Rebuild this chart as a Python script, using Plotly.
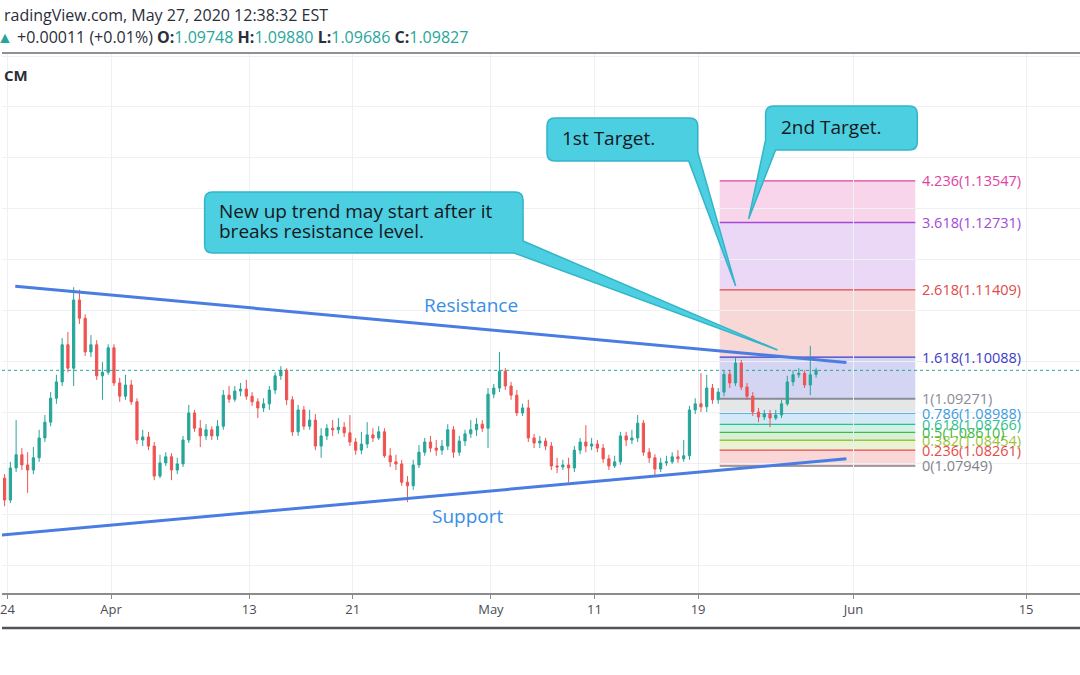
import pandas as pd
import plotly.graph_objects as go

# ---------------- data ----------------
session_days = [d.strftime("%Y-%m-%d") for d in pd.bdate_range("2020-03-23", "2020-06-30")]
candles_per_day = 3  # 8-hour candles, first session 2020-03-23

open_ = [1.0803, 1.0791, 1.0771, 1.0728, 1.0791, 1.0817, 1.0797, 1.0787, 1.0811, 1.0850, 1.0881, 1.0928,
         1.0960, 1.1033, 1.0987, 1.1121, 1.1085, 1.1019, 1.1033, 1.0972, 1.0979, 1.1027, 1.0958, 1.0932,
         1.0954, 1.0921, 1.0846, 1.0852, 1.0834, 1.0775, 1.0801, 1.0813, 1.0787, 1.0799, 1.0846, 1.0899,
         1.0869, 1.0854, 1.0866, 1.0854, 1.0873, 1.0934, 1.0926, 1.0942, 1.0946, 1.0932, 1.0921, 1.0909,
         1.0917, 1.0944, 1.0972, 1.0983, 1.0925, 1.0862, 1.0905, 1.0873, 1.0885, 1.0834, 1.0854, 1.0869,
         1.0866, 1.0871, 1.0860, 1.0842, 1.0826, 1.0838, 1.0856, 1.0850, 1.0862, 1.0815, 1.0803, 1.0799,
         1.0763, 1.0756, 1.0797, 1.0822, 1.0842, 1.0830, 1.0826, 1.0834, 1.0866, 1.0822, 1.0844, 1.0858,
         1.0866, 1.0877, 1.0869, 1.0936, 1.0948, 1.0981, 1.0952, 1.0934, 1.0899, 1.0909, 1.0850, 1.0840,
         1.0844, 1.0834, 1.0795, 1.0793, 1.0797, 1.0791, 1.0826, 1.0842, 1.0834, 1.0838, 1.0830, 1.0809,
         1.0795, 1.0803, 1.0854, 1.0846, 1.0850, 1.0879, 1.0822, 1.0811, 1.0789, 1.0801, 1.0803, 1.0813,
         1.0809, 1.0815, 1.0905, 1.0917, 1.0911, 1.0948, 1.0925, 1.0940, 1.0975, 1.0958, 1.0997, 1.0950,
         1.0932, 1.0901, 1.0891, 1.0897, 1.0889, 1.0895, 1.0917, 1.0960, 1.0974, 1.0977, 1.0954, 1.09748]
high_ = [1.0811, 1.0799, 1.0779, 1.0803, 1.0885, 1.0830, 1.0822, 1.0832, 1.0866, 1.0895, 1.0940, 1.0974,
         1.1046, 1.1058, 1.1146, 1.1141, 1.1093, 1.1052, 1.1042, 1.0999, 1.1034, 1.1034, 1.0968, 1.0974,
         1.0964, 1.0928, 1.0866, 1.0862, 1.0842, 1.0817, 1.0822, 1.0820, 1.0811, 1.0854, 1.0915, 1.0905,
         1.0885, 1.0877, 1.0873, 1.0885, 1.0944, 1.0952, 1.0952, 1.0958, 1.0964, 1.0940, 1.0928, 1.0928,
         1.0952, 1.0979, 1.0991, 1.0987, 1.0932, 1.0915, 1.0913, 1.0905, 1.0897, 1.0869, 1.0877, 1.0885,
         1.0889, 1.0881, 1.0895, 1.0850, 1.0862, 1.0881, 1.0869, 1.0873, 1.0869, 1.0830, 1.0817, 1.0807,
         1.0775, 1.0807, 1.0836, 1.0850, 1.0854, 1.0846, 1.0846, 1.0877, 1.0873, 1.0854, 1.0866, 1.0885,
         1.0889, 1.0885, 1.0948, 1.0956, 1.1019, 1.0987, 1.0960, 1.0944, 1.0917, 1.0925, 1.0858, 1.0854,
         1.0850, 1.0842, 1.0811, 1.0807, 1.0811, 1.0834, 1.0850, 1.0875, 1.0850, 1.0846, 1.0838, 1.0817,
         1.0815, 1.0862, 1.0862, 1.0866, 1.0895, 1.0885, 1.0830, 1.0818, 1.0811, 1.0815, 1.0822, 1.0826,
         1.0846, 1.0913, 1.0928, 1.0977, 1.0974, 1.0956, 1.0948, 1.0983, 1.0983, 1.1007, 1.1003, 1.0958,
         1.0940, 1.0909, 1.0905, 1.0905, 1.0905, 1.0925, 1.0972, 1.0983, 1.0987, 1.0983, 1.1031, 1.09880]
low_ = [1.0779, 1.0760, 1.0716, 1.0722, 1.0783, 1.0787, 1.0742, 1.0779, 1.0803, 1.0842, 1.0873, 1.0917,
        1.0952, 1.0979, 1.0952, 1.1074, 1.1011, 1.1009, 1.0964, 1.0925, 1.0974, 1.0952, 1.0921, 1.0925,
        1.0915, 1.0838, 1.0834, 1.0826, 1.0767, 1.0771, 1.0795, 1.0767, 1.0779, 1.0793, 1.0840, 1.0862,
        1.0832, 1.0846, 1.0846, 1.0846, 1.0866, 1.0919, 1.0921, 1.0932, 1.0925, 1.0913, 1.0889, 1.0901,
        1.0905, 1.0936, 1.0964, 1.0915, 1.0854, 1.0854, 1.0866, 1.0866, 1.0826, 1.0811, 1.0846, 1.0854,
        1.0858, 1.0852, 1.0834, 1.0817, 1.0818, 1.0830, 1.0842, 1.0846, 1.0811, 1.0793, 1.0787, 1.0756,
        1.0724, 1.0748, 1.0791, 1.0815, 1.0822, 1.0815, 1.0817, 1.0826, 1.0811, 1.0815, 1.0834, 1.0850,
        1.0854, 1.0862, 1.0830, 1.0928, 1.0940, 1.0944, 1.0925, 1.0893, 1.0893, 1.0842, 1.0830, 1.0830,
        1.0826, 1.0787, 1.0781, 1.0787, 1.0763, 1.0783, 1.0818, 1.0822, 1.0826, 1.0822, 1.0801, 1.0787,
        1.0791, 1.0797, 1.0834, 1.0838, 1.0842, 1.0815, 1.0801, 1.0773, 1.0783, 1.0795, 1.0799, 1.0801,
        1.0803, 1.0807, 1.0897, 1.0901, 1.0901, 1.0917, 1.0917, 1.0932, 1.0948, 1.0952, 1.0944, 1.0925,
        1.0893, 1.0881, 1.0885, 1.0871, 1.0885, 1.0889, 1.0913, 1.0952, 1.0968, 1.0948, 1.0934, 1.09686]
close_ = [1.0791, 1.0771, 1.0728, 1.0791, 1.0817, 1.0797, 1.0787, 1.0811, 1.0850, 1.0881, 1.0928, 1.0960,
          1.1033, 1.0987, 1.1121, 1.1085, 1.1019, 1.1033, 1.0972, 1.0979, 1.1027, 1.0958, 1.0932, 1.0954,
          1.0921, 1.0846, 1.0852, 1.0834, 1.0775, 1.0801, 1.0813, 1.0787, 1.0799, 1.0846, 1.0899, 1.0869,
          1.0854, 1.0866, 1.0854, 1.0873, 1.0934, 1.0926, 1.0942, 1.0946, 1.0932, 1.0921, 1.0909, 1.0917,
          1.0944, 1.0972, 1.0983, 1.0925, 1.0862, 1.0905, 1.0873, 1.0885, 1.0834, 1.0854, 1.0869, 1.0866,
          1.0871, 1.0860, 1.0842, 1.0826, 1.0838, 1.0856, 1.0850, 1.0862, 1.0815, 1.0803, 1.0799, 1.0763,
          1.0756, 1.0797, 1.0822, 1.0842, 1.0830, 1.0826, 1.0834, 1.0866, 1.0822, 1.0844, 1.0858, 1.0866,
          1.0877, 1.0869, 1.0936, 1.0948, 1.0981, 1.0952, 1.0934, 1.0899, 1.0909, 1.0850, 1.0840, 1.0844,
          1.0834, 1.0795, 1.0793, 1.0797, 1.0791, 1.0826, 1.0842, 1.0834, 1.0838, 1.0830, 1.0809, 1.0795,
          1.0803, 1.0854, 1.0846, 1.0850, 1.0879, 1.0822, 1.0811, 1.0789, 1.0801, 1.0803, 1.0813, 1.0809,
          1.0815, 1.0905, 1.0917, 1.0911, 1.0948, 1.0925, 1.0940, 1.0975, 1.0958, 1.0997, 1.0950, 1.0932,
          1.0901, 1.0891, 1.0897, 1.0889, 1.0895, 1.0917, 1.0960, 1.0974, 1.0977, 1.0954, 1.0974, 1.09827]

tick_dates = ["2020-03-24", "2020-04-01", "2020-04-13", "2020-04-21", "2020-05-01",
              "2020-05-11", "2020-05-19", "2020-06-01", "2020-06-15"]
tick_labels = ["24", "Apr", "13", "21", "May", "11", "19", "Jun", "15"]

fib_ratios = ["0", "0.236", "0.382", "0.5", "0.618", "0.786", "1", "1.618", "2.618", "3.618", "4.236"]
fib_prices = [1.07949, 1.08261, 1.08454, 1.08610, 1.08766, 1.08988, 1.09271, 1.10088, 1.11409, 1.12731, 1.13547]
fib_colors = ["#808389", "#e84a4a", "#9cc43a", "#43b843", "#2fbf8f", "#3d9be0",
              "#8a8d96", "#3c3cc8", "#e04a4a", "#a24ad8", "#e040a0"]
fib_span = [42.25, 53.58]          # session-index range covered by the fib drawing

resistance_x = [1.45, 49.59]
resistance_p = [1.1148, 1.0998]
support_x = [0.60, 49.59]
support_p = [1.0659, 1.0809]
last_price = 1.09827

# ---------------- figure ----------------
W, H = 1080, 675
PT, PB = 54, 593                  # plot area top / bottom in pixels
PH = PB - PT

xs = [i // candles_per_day + (i % candles_per_day + 0.5) / candles_per_day for i in range(len(close_))]
tickvals = [session_days.index(d) for d in tick_dates]


def rgba(h, a):
    h = h.lstrip("#")
    return f"rgba({int(h[0:2], 16)},{int(h[2:4], 16)},{int(h[4:6], 16)},{a})"


def P(x, y):
    return f"{x / W:.5f},{(PB - y) / PH:.5f}"


def px_y(y):
    return (PB - y) / PH


fig = go.Figure()
fig.add_trace(go.Candlestick(
    x=xs, open=open_, high=high_, low=low_, close=close_,
    increasing=dict(line=dict(color="#26a69a", width=1), fillcolor="#26a69a"),
    decreasing=dict(line=dict(color="#ef5350", width=1), fillcolor="#ef5350"),
    whiskerwidth=0, showlegend=False, hoverinfo="skip"))

shapes = []
# fib regions and lines
for i in range(1, len(fib_prices)):
    shapes.append(dict(type="rect", xref="x", yref="y", x0=fib_span[0], x1=fib_span[1],
                       y0=fib_prices[i - 1], y1=fib_prices[i], fillcolor=rgba(fib_colors[i], 0.22),
                       line=dict(width=0), layer="below"))
for p, c, r in zip(fib_prices, fib_colors, fib_ratios):
    shapes.append(dict(type="line", xref="x", yref="y", x0=fib_span[0], x1=fib_span[1], y0=p, y1=p,
                       line=dict(color=c, width=2 if r == "1" else 1.3), layer="below"))

# current price dotted line
shapes.append(dict(type="line", xref="paper", yref="y", x0=0, x1=1, y0=last_price, y1=last_price,
                   line=dict(color="#26a69a", width=1, dash="dot")))
# trend lines
shapes.append(dict(type="line", xref="x", yref="y", x0=resistance_x[0], x1=resistance_x[1],
                   y0=resistance_p[0], y1=resistance_p[1], line=dict(color="#4a7de2", width=3)))
shapes.append(dict(type="line", xref="x", yref="y", x0=support_x[0], x1=support_x[1],
                   y0=support_p[0], y1=support_p[1], line=dict(color="#4a7de2", width=3)))

# callouts (screen-anchored)
CFILL, CLINE = "#4ccfe0", "#33b4c8"
r = 8
L, R, T, B = 203, 522, 192, 253
path1 = (f"M {P(L + r, T)} L {P(R - r, T)} Q {P(R, T)} {P(R, T + r)} L {P(R, 241)} L {P(777, 350)} "
         f"L {P(513, B)} L {P(L + r, B)} Q {P(L, B)} {P(L, B - r)} L {P(L, T + r)} Q {P(L, T)} {P(L + r, T)} Z")
L, R, T, B = 546, 697, 118, 161
path2 = (f"M {P(L + r, T)} L {P(R - r, T)} Q {P(R, T)} {P(R, T + r)} L {P(R, 152)} L {P(735, 286)} "
         f"L {P(688, B)} L {P(L + r, B)} Q {P(L, B)} {P(L, B - r)} L {P(L, T + r)} Q {P(L, T)} {P(L + r, T)} Z")
L, R, T, B = 765, 917, 106, 150
path3 = (f"M {P(L + r, T)} L {P(R - r, T)} Q {P(R, T)} {P(R, T + r)} L {P(R, B - r)} Q {P(R, B)} {P(R - r, B)} "
         f"L {P(775, B)} L {P(748, 219)} L {P(L, 140)} L {P(L, T + r)} Q {P(L, T)} {P(L + r, T)} Z")
for pth in (path1, path2, path3):
    shapes.append(dict(type="path", xref="paper", yref="paper", path=pth, fillcolor=CFILL,
                       line=dict(color=CLINE, width=1.5)))

# header separator and bottom border
shapes.append(dict(type="line", xref="paper", yref="paper", x0=0, x1=1, y0=px_y(53), y1=px_y(53),
                   line=dict(color="#6a6d75", width=1.5)))
shapes.append(dict(type="line", xref="paper", yref="paper", x0=0, x1=1, y0=px_y(628), y1=px_y(628),
                   line=dict(color="#505357", width=2.5)))

ann = []
FONT = "Open Sans"
# fib labels
for p, c, rr in zip(fib_prices, fib_colors, fib_ratios):
    ann.append(dict(xref="x", yref="y", x=fib_span[1], y=p, xshift=5, xanchor="left", yanchor="middle",
                    text=f"{rr}({p:.5f})", showarrow=False, font=dict(family=FONT, size=14.5, color=c)))

# trend labels
ann.append(dict(xref="paper", yref="paper", x=470 / W, y=px_y(305), text="Resistance", showarrow=False,
                xanchor="center", yanchor="middle", font=dict(family=FONT, size=19, color="#3a8ee6")))
ann.append(dict(xref="paper", yref="paper", x=467 / W, y=px_y(516), text="Support", showarrow=False,
                xanchor="center", yanchor="middle", font=dict(family=FONT, size=19, color="#3a8ee6")))

# callout texts
ctext = dict(family=FONT, size=19, color="#151820")
for txt, x, y in [("New up trend may start after it", 215, 211), ("breaks resistance level.", 215, 231),
                  ("1st Target.", 559, 138), ("2nd Target.", 778, 127)]:
    ann.append(dict(xref="paper", yref="paper", x=x / W, y=px_y(y), text=txt, showarrow=False,
                    xanchor="left", yanchor="middle", font=ctext))

# header
ann.append(dict(xref="paper", yref="paper", x=0, y=px_y(15), xanchor="left", yanchor="middle",
                text="radingView.com, May 27, 2020 12:38:32 EST", showarrow=False,
                font=dict(family=FONT, size=16, color="#2a2e39")))
G = "#26a69a"
hdr2 = (f"<span style='color:{G}'>▲</span> +0.00011 (+0.01%) <b>O:</b><span style='color:{G}'>1.09748</span> "
        f"<b>H:</b><span style='color:{G}'>1.09880</span> <b>L:</b><span style='color:{G}'>1.09686</span> "
        f"<b>C:</b><span style='color:{G}'>1.09827</span>")
ann.append(dict(xref="paper", yref="paper", x=-7 / W, y=px_y(37), xanchor="left", yanchor="middle",
                text=hdr2, showarrow=False, font=dict(family=FONT, size=16, color="#2a2e39")))
ann.append(dict(xref="paper", yref="paper", x=0, y=px_y(75), xanchor="left", yanchor="middle",
                text="<b>CM</b>", showarrow=False, font=dict(family=FONT, size=15, color="#2a2e39")))

x_lo = 1 - 5.5 / 17.297
x_hi = 1 + 1074.5 / 17.297
y_hi = 1.17101 - 0.0001964 * PT
y_lo = 1.17101 - 0.0001964 * PB

fig.update_layout(
    width=W, height=H, margin=dict(l=0, r=0, t=PT, b=H - PB),
    paper_bgcolor="white", plot_bgcolor="white",
    shapes=shapes, annotations=ann, boxgap=0.45,
    xaxis=dict(range=[x_lo, x_hi], tickvals=tickvals, ticktext=tick_labels, showgrid=True,
               gridcolor="#edf1f4", gridwidth=1, zeroline=False, ticks="outside", ticklen=4,
               tickcolor="#8c8c8c", showline=True, linecolor="#8c8c8c", linewidth=1.5,
               tickfont=dict(family=FONT, size=13, color="#4a4d55"), rangeslider=dict(visible=False),
               ticklabeloverflow="allow"),
    yaxis=dict(range=[y_lo, y_hi], dtick=0.01, tick0=1.0, showticklabels=False, showgrid=True,
               gridcolor="#edf1f4", gridwidth=1, zeroline=False, fixedrange=True),
    hovermode=False,
)

fig.write_html("out.html")
